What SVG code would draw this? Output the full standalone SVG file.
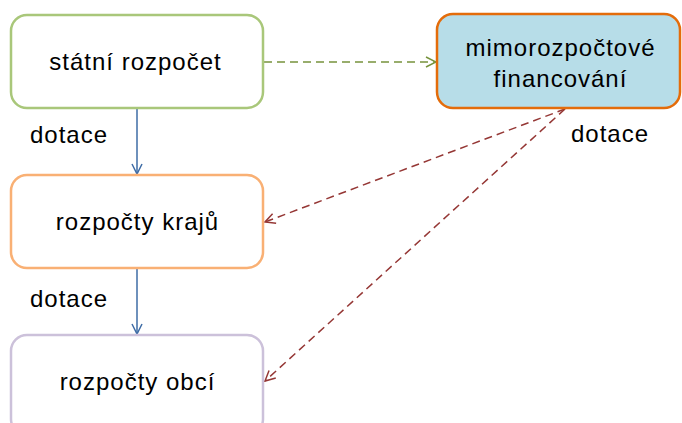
<svg xmlns="http://www.w3.org/2000/svg" width="682" height="423" viewBox="0 0 682 423">
<defs>
<style>
text{font-family:"Liberation Sans",Arial,sans-serif;font-size:24px;letter-spacing:1px;fill:#000;text-anchor:middle}
.lbl{text-anchor:start}
.box{stroke-width:2.5}
.blue{stroke:#3E6CA6;stroke-width:1.5;fill:none}
.green{stroke:#77933C;stroke-width:1.5;fill:none;stroke-dasharray:8 5}
.red{stroke:#953735;stroke-width:1.5;fill:none;stroke-dasharray:8 5}
</style>
<marker id="ab" viewBox="0 0 12 12" refX="11" refY="6" markerWidth="12" markerHeight="12" markerUnits="userSpaceOnUse" orient="auto"><path d="M1,1 L11,6 L1,11" fill="none" stroke="#3E6CA6" stroke-width="1.5"/></marker>
<marker id="ag" viewBox="0 0 12 12" refX="11" refY="6" markerWidth="12" markerHeight="12" markerUnits="userSpaceOnUse" orient="auto"><path d="M1,1 L11,6 L1,11" fill="none" stroke="#77933C" stroke-width="1.5"/></marker>
<marker id="ar" viewBox="0 0 12 12" refX="11" refY="6" markerWidth="12" markerHeight="12" markerUnits="userSpaceOnUse" orient="auto"><path d="M1,1 L11,6 L1,11" fill="none" stroke="#953735" stroke-width="1.5"/></marker>
</defs>
<rect width="682" height="423" fill="#fff"/>
<g id="connectors">
<line class="blue" x1="137" y1="109" x2="137" y2="174" marker-end="url(#ab)"/>
<line class="blue" x1="137" y1="269" x2="137" y2="334" marker-end="url(#ab)"/>
<line class="green" x1="264" y1="62" x2="436" y2="62" marker-end="url(#ag)"/>
<line class="red" x1="565" y1="109" x2="265" y2="222" marker-end="url(#ar)"/>
<line class="red" x1="565" y1="109" x2="265" y2="381" marker-end="url(#ar)"/>
</g>
<g id="statni">
<rect class="box" x="11" y="15" width="252" height="93" rx="16" fill="#fff" stroke="#A9C77A"/>
<text x="135.5" y="70">státní rozpočet</text>
</g>
<g id="mimo">
<rect class="box" x="437" y="14" width="243" height="94" rx="16" fill="#B7DDE8" stroke="#E46C0A"/>
<text x="560.5" y="56">mimorozpočtové</text>
<text x="560.5" y="87">financování</text>
</g>
<g id="kraje">
<rect class="box" x="11" y="175" width="252" height="93" rx="16" fill="#fff" stroke="#F9B074"/>
<text x="137.5" y="230">rozpočty krajů</text>
</g>
<g id="obce">
<rect class="box" x="11" y="335" width="252" height="100" rx="16" fill="#fff" stroke="#CCC1DA"/>
<text x="137.5" y="390">rozpočty obcí</text>
</g>
<g id="labels">
<text class="lbl" x="30" y="143">dotace</text>
<text class="lbl" x="30" y="307">dotace</text>
<text class="lbl" x="571" y="142">dotace</text>
</g>
</svg>
